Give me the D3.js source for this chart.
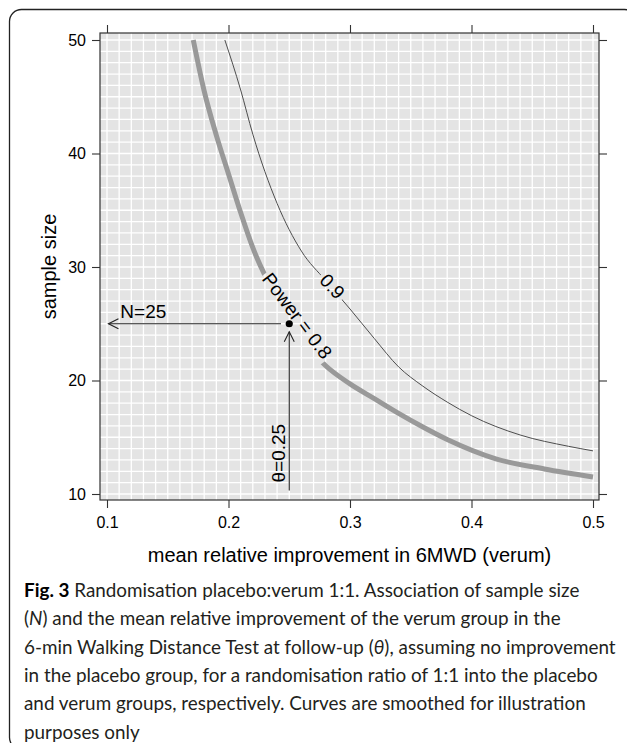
<!DOCTYPE html>
<html>
<head>
<meta charset="utf-8">
<script src="https://cdn.jsdelivr.net/npm/d3@7"></script>
<style>
body { margin: 0; background: #fff; }
svg { display: block; }
</style>
</head>
<body>
<svg id="svg"></svg>
<script>
// values
const xTicks = [0.1, 0.2, 0.3, 0.4, 0.5]
const yTicks = [10, 20, 30, 40, 50]

// power = 0.8 (thick grey)
const theta80 = [0.171, 0.18, 0.19, 0.20, 0.21, 0.22, 0.24, 0.26, 0.28, 0.30, 0.32, 0.34, 0.36, 0.38, 0.42, 0.46, 0.50]
const n80 = [50, 45.5, 41.6, 38.2, 34.8, 31.7, 27.2, 23.7, 21.3, 19.7, 18.4, 17.1, 15.9, 14.8, 13.1, 12.2, 11.5]

// power = 0.9 (thin)
const theta90 = [0.197, 0.21, 0.22, 0.24, 0.26, 0.28, 0.30, 0.32, 0.34, 0.36, 0.38, 0.40, 0.44, 0.48, 0.50]
const n90 = [50, 45.6, 41.7, 35.6, 31.4, 28.8, 26.3, 23.7, 21.2, 19.5, 18.1, 16.9, 15.2, 14.2, 13.8]

const targetTheta = 0.25
const targetN = 25

const captionLines = [
	[['Fig. 3', 'b'], [' Randomisation placebo:verum 1:1. Association of sample size', '']],
	[['(', ''], ['N', 'i'], [') and the mean relative improvement of the verum group in the', '']],
	[['6-min Walking Distance Test at follow-up (', ''], ['θ', 'i'], ['), assuming no improvement', '']],
	[['in the placebo group, for a randomisation ratio of 1:1 into the placebo', '']],
	[['and verum groups, respectively. Curves are smoothed for illustration', '']],
	[['purposes only', '']]
]

const doIt = () => {
	let w = 627
	let h = 743
	let axisFont = '"Liberation Sans", Arial, Helvetica, sans-serif'

	let svg = d3.select('#svg').attr('width', w).attr('height', h)

	// outer figure frame
	svg.append('rect')
	.attr('x', 9.5).attr('y', 9.5)
	.attr('width', 627).attr('height', 740)
	.attr('rx', 12)
	.attr('fill', 'none').attr('stroke', '#222').attr('stroke-width', 1.3)

	let px0 = 100, px1 = 599, py0 = 33, py1 = 500

	let x = d3.scaleLinear().domain([0.1, 0.5]).range([107, 593])
	let y = d3.scaleLinear().domain([10, 50]).range([494, 40])

	// panel background + grid
	svg.append('rect')
	.attr('x', px0).attr('y', py0)
	.attr('width', px1 - px0).attr('height', py1 - py0)
	.attr('fill', '#e4e4e4')

	let grid = svg.append('g').attr('stroke', '#fff').attr('stroke-width', 1.3)
	grid.selectAll('.gx')
	.data(d3.range(10, 51).map(d => d / 100)) // 0.10 .. 0.50 by 0.01
	.enter().append('line')
	.attr('x1', d => x(d)).attr('x2', d => x(d))
	.attr('y1', py0).attr('y2', py1)
	grid.selectAll('.gy')
	.data(d3.range(10, 51))
	.enter().append('line')
	.attr('x1', px0).attr('x2', px1)
	.attr('y1', d => y(d)).attr('y2', d => y(d))

	// masks to leave a gap in the curves under their labels
	let defs = svg.append('defs')
	const makeMask = (id, cx, cy, ang, len, thick) => {
		let m = defs.append('mask').attr('id', id).attr('maskUnits', 'userSpaceOnUse')
		.attr('x', 0).attr('y', 0).attr('width', w).attr('height', h)
		m.append('rect').attr('x', 0).attr('y', 0).attr('width', w).attr('height', h).attr('fill', '#fff')
		m.append('rect')
		.attr('x', -len / 2).attr('y', -thick / 2)
		.attr('width', len).attr('height', thick)
		.attr('transform', `translate(${cx},${cy}) rotate(${ang})`)
		.attr('fill', '#000')
	}

	let lineMkr = d3.line()
	.x(d => x(d[0]))
	.y(d => y(d[1]))
	.curve(d3.curveMonotoneX)

	// curve labels
	let lab80 = { t: 0.2565, n: 25.7, ang: 53, text: 'Power = 0.8' }
	let lab90 = { t: 0.2855, n: 28.3, ang: 47, text: '0.9' }

	let labels = svg.append('g')
	.attr('font-family', axisFont).attr('font-size', 19).attr('fill', '#000')
	.attr('text-anchor', 'middle')

	let l80 = labels.append('text')
	.attr('transform', `translate(${x(lab80.t)},${y(lab80.n)}) rotate(${lab80.ang})`)
	.attr('dy', '0.35em')
	.text(lab80.text)
	let l90 = labels.append('text')
	.attr('transform', `translate(${x(lab90.t)},${y(lab90.n)}) rotate(${lab90.ang})`)
	.attr('dy', '0.35em')
	.text(lab90.text)

	makeMask('m80', x(lab80.t), y(lab80.n), lab80.ang, l80.node().getComputedTextLength() + 4, 40)
	makeMask('m90', x(lab90.t), y(lab90.n), lab90.ang, l90.node().getComputedTextLength() + 6, 40)

	svg.append('path')
	.datum(d3.zip(theta90, n90))
	.attr('d', lineMkr)
	.attr('fill', 'none').attr('stroke', '#4d4d4d').attr('stroke-width', 1)
	.attr('mask', 'url(#m90)')

	svg.append('path')
	.datum(d3.zip(theta80, n80))
	.attr('d', lineMkr)
	.attr('fill', 'none').attr('stroke', '#999').attr('stroke-width', 5)
	.attr('mask', 'url(#m80)')

	labels.raise()

	// annotation arrows
	let ann = svg.append('g').attr('stroke', '#222').attr('stroke-width', 1.1).attr('fill', 'none')
	let hx0 = x(0.1012), hx1 = x(0.2432), hy = y(targetN)
	ann.append('line').attr('x1', hx0).attr('x2', hx1).attr('y1', hy).attr('y2', hy)
	ann.append('path').attr('d', `M${hx0 + 10},${hy - 5}L${hx0},${hy}L${hx0 + 10},${hy + 5}`)

	let vx = x(targetTheta), vy0 = y(10.3), vy1 = y(24.3)
	ann.append('line').attr('x1', vx).attr('x2', vx).attr('y1', vy0).attr('y2', vy1)
	ann.append('path').attr('d', `M${vx - 5},${vy1 + 10}L${vx},${vy1}L${vx + 5},${vy1 + 10}`)

	svg.append('circle')
	.attr('cx', x(targetTheta)).attr('cy', y(targetN)).attr('r', 3.6)
	.attr('fill', '#000')

	svg.append('text')
	.attr('x', x(0.111)).attr('y', y(targetN) - 6)
	.attr('font-family', axisFont).attr('font-size', 19)
	.text('N=' + targetN)

	svg.append('text')
	.attr('transform', `translate(${vx - 4},${y(13.6)}) rotate(-90)`)
	.attr('text-anchor', 'middle')
	.attr('font-family', axisFont).attr('font-size', 19)
	.text('θ=' + targetTheta)

	// panel border
	svg.append('rect')
	.attr('x', px0).attr('y', py0)
	.attr('width', px1 - px0).attr('height', py1 - py0)
	.attr('fill', 'none').attr('stroke', '#333').attr('stroke-width', 1.2)

	// axes: ticks on all four sides, labels left and bottom
	const styleAxis = g => {
		g.select('.domain').remove()
		g.selectAll('line').attr('stroke', '#333').attr('stroke-width', 1.1)
		g.selectAll('text').attr('font-family', axisFont).attr('font-size', 16).attr('fill', '#000')
	}
	svg.append('g').attr('transform', `translate(0,${py1})`)
	.call(d3.axisBottom(x).tickValues(xTicks).tickSize(8).tickPadding(9).tickFormat(d3.format('.1f')))
	.call(styleAxis)
	svg.append('g').attr('transform', `translate(0,${py0})`)
	.call(d3.axisTop(x).tickValues(xTicks).tickSize(8).tickFormat(''))
	.call(styleAxis)
	svg.append('g').attr('transform', `translate(${px0},0)`)
	.call(d3.axisLeft(y).tickValues(yTicks).tickSize(8).tickPadding(6))
	.call(styleAxis)
	svg.append('g').attr('transform', `translate(${px1},0)`)
	.call(d3.axisRight(y).tickValues(yTicks).tickSize(8).tickFormat(''))
	.call(styleAxis)

	// axis titles
	svg.append('text')
	.attr('x', (px0 + px1) / 2).attr('y', 562)
	.attr('text-anchor', 'middle')
	.attr('font-family', axisFont).attr('font-size', 20)
	.text('mean relative improvement in 6MWD (verum)')

	svg.append('text')
	.attr('transform', `translate(56,${(py0 + py1) / 2}) rotate(-90)`)
	.attr('text-anchor', 'middle')
	.attr('font-family', axisFont).attr('font-size', 20)
	.text('sample size')

	// caption
	let cap = svg.append('g')
	.attr('font-family', 'Lato, "Open Sans", sans-serif')
	.attr('font-size', 20)
	.attr('fill', '#231f20')

	let capText = cap.selectAll('text')
	.data(captionLines)
	.enter().append('text')
	.attr('x', 24)
	.attr('y', (d, i) => 597 + i * 28.3)

	capText.selectAll('tspan')
	.data(d => d)
	.enter().append('tspan')
	.attr('font-weight', d => d[1] === 'b' ? 700 : null)
	.attr('font-style', d => d[1] === 'i' ? 'italic' : null)
	.attr('fill', d => d[1] === 'b' ? '#000' : null)
	.text(d => d[0])

	let widest = d3.max(capText.nodes(), n => n.getComputedTextLength())
	cap.attr('font-size', 20 * 592 / widest)
}

doIt()
</script>
</body>
</html>
